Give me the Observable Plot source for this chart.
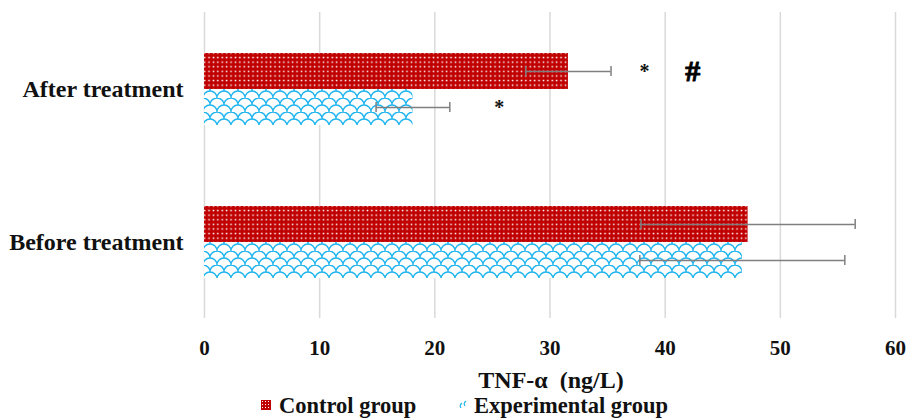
<!DOCTYPE html>
<html><head><meta charset="utf-8">
<script src="https://cdn.jsdelivr.net/npm/d3@7"></script>
<script src="https://cdn.jsdelivr.net/npm/@observablehq/plot@0.6"></script>
<style>
body{margin:0;background:#fff;}
#chart{width:907px;height:420px;position:relative;font-family:"Liberation Serif",serif;font-weight:bold;color:#111;}
#chart svg.plot{position:absolute;left:0;top:0;}
.xtitle{position:absolute;left:401px;width:300px;top:366px;line-height:28px;font-size:24px;text-align:center;white-space:pre;}
.leg{position:absolute;top:393px;line-height:25px;font-size:22.5px;white-space:pre;}
.sw{position:absolute;top:400px;}
</style></head><body>
<div id="chart"></div>
<script>
const categories = ["After treatment", "Before treatment"];
const groups = ["Control group", "Experimental group"];
const controlMean = [31.6, 47.2];
const controlSD = [3.7, 9.3];
const experimentalMean = [18.1, 46.7];
const experimentalSD = [3.2, 8.9];
const xTicks = [0, 10, 20, 30, 40, 50, 60];
const annCategory = ["After treatment", "After treatment", "After treatment"];
const annGroup = ["Control group", "Control group", "Experimental group"];
const annX = [38.2, 42.4, 25.6];
const annLabel = ["*", "#", "*"];

const data = categories.flatMap((c, i) => [
  {category: c, group: groups[0], mean: controlMean[i], sd: controlSD[i]},
  {category: c, group: groups[1], mean: experimentalMean[i], sd: experimentalSD[i]}
]);
const ann = annLabel.map((t, i) => ({category: annCategory[i], group: annGroup[i], x: annX[i], label: t}));

const plot = Plot.plot({
  width: 907, height: 362,
  marginLeft: 204, marginRight: 12, marginTop: 12, marginBottom: 44,
  x: {domain: [0, 60], axis: null},
  y: {domain: groups, axis: null, paddingInner: 0, paddingOuter: 1.07},
  fy: {domain: categories, padding: 0, axis: null},
  style: "font-family:'Liberation Serif',serif;font-weight:bold;color:#111;background:transparent;overflow:visible;",
  marks: [
    Plot.ruleX(xTicks, {x: d => d, stroke: "#d9d9d9", strokeWidth: 1.5}),
    Plot.barX(data.filter(d => d.group === groups[0]), {fy: "category", y: "group", x: "mean", fill: "url(#dots)"}),
    Plot.barX(data.filter(d => d.group === groups[1]), {fy: "category", y: "group", x: "mean", fill: "url(#scales)"}),
    Plot.ruleY(data, {fy: "category", y: "group", x1: d => d.mean - d.sd, x2: d => d.mean + d.sd, stroke: "#7f7f7f", strokeWidth: 1.5}),
    Plot.tickX(data, {fy: "category", y: "group", x: d => d.mean - d.sd, stroke: "#7f7f7f", strokeWidth: 1.5, insetTop: 13, insetBottom: 13}),
    Plot.tickX(data, {fy: "category", y: "group", x: d => d.mean + d.sd, stroke: "#7f7f7f", strokeWidth: 1.5, insetTop: 13, insetBottom: 13}),
    Plot.text(ann.filter(d => d.label === "*"), {fy: "category", y: "group", x: "x", text: "label", fontSize: 20, fill: "#111"}),
    Plot.text(ann.filter(d => d.label === "#"), {fy: "category", y: "group", x: "x", text: "label", fontSize: 30, fontWeight: 900, fill: "#000", stroke: "#000", strokeWidth: 1}),
    Plot.axisX({ticks: xTicks, tickSize: 0, tickPadding: 22, fontSize: 21, label: null}),
    Plot.axisFy({anchor: "left", tickSize: 0, tickPadding: 21, fontSize: 24, label: null})
  ]
});

d3.select(plot).insert("defs", ":first-child").html(`
  <pattern id="dots" width="4.4" height="4.6" patternUnits="userSpaceOnUse">
    <rect width="4.4" height="4.6" fill="#C00000"/>
    <rect x="1.5" y="1.6" width="1.5" height="1.5" fill="#fff"/>
  </pattern>
  <pattern id="scales" width="14" height="14" patternUnits="userSpaceOnUse">
    <rect width="14" height="14" fill="#fff"/>
    <path d="M0,7 A7,7 0 0 1 14,7 M-7,14 A7,7 0 0 1 7,14 M7,14 A7,7 0 0 1 21,14 M-7,0 A7,7 0 0 1 7,0 M7,0 A7,7 0 0 1 21,0" fill="none" stroke="#1EB4EE" stroke-width="1.4"/>
  </pattern>`);

const chart = document.getElementById("chart");
chart.appendChild(plot);

const title = document.createElement("div");
title.className = "xtitle";
title.textContent = "TNF-α  (ng/L)";
chart.appendChild(title);

function swatch(left, fillId, patHtml) {
  const s = d3.create("svg").attr("class", "sw").attr("width", 10).attr("height", 10).style("left", left + "px");
  s.append("defs").html(patHtml);
  s.append("rect").attr("width", 10).attr("height", 10).attr("fill", `url(#${fillId})`);
  chart.appendChild(s.node());
}
swatch(261, "dotsL", `<pattern id="dotsL" width="3" height="3" patternUnits="userSpaceOnUse"><rect width="3" height="3" fill="#C00000"/><rect x="1" y="1" width="1" height="1" fill="#fff"/></pattern>`);
swatch(459, "scalesL", `<pattern id="scalesL" width="10" height="10" patternUnits="userSpaceOnUse"><path d="M2,8 Q0,5 3,3 M6,6 Q4,3 7,1" fill="none" stroke="#1EB4EE" stroke-width="1.2"/></pattern>`);

[[groups[0], 279], [groups[1], 474]].forEach(([t, l]) => {
  const d = document.createElement("div");
  d.className = "leg";
  d.style.left = l + "px";
  d.textContent = t;
  chart.appendChild(d);
});
</script>
</body></html>
